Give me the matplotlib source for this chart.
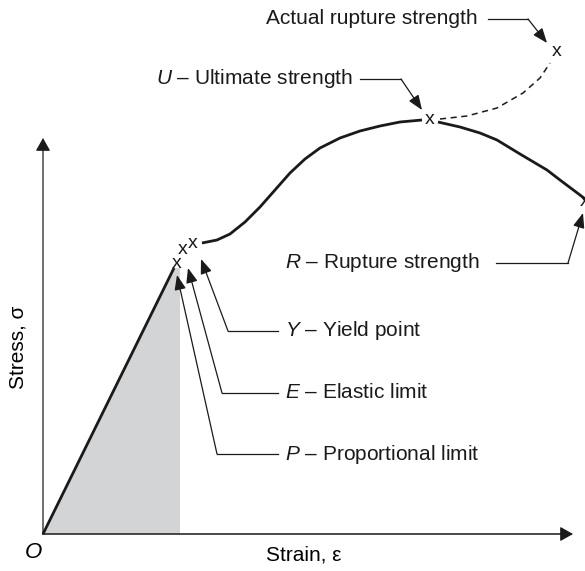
import matplotlib.pyplot as plt

plt.rcParams['font.family'] = ['Liberation Sans', 'DejaVu Sans']
plt.rcParams['mathtext.fontset'] = 'custom'
plt.rcParams['mathtext.it'] = 'Liberation Sans:italic'
plt.rcParams['mathtext.rm'] = 'Liberation Sans'

# strain / stress coordinates (arbitrary units, origin at O)
elastic_strain = [0, 131]
elastic_stress = [0, 266]

plastic_strain = [159, 174, 187, 202, 217, 232, 247, 262, 277, 297, 317, 337, 357, 379]
plastic_stress = [291, 294, 300, 312, 327, 344, 361, 375, 386, 396, 403, 408, 412, 414]

necking_strain = [395, 417, 437, 454, 477, 504, 517, 537, 550]
necking_stress = [412, 407, 401, 394, 380, 364, 354, 339, 329]

true_strain = [397, 424, 454, 480, 497, 507]
true_stress = [415, 418, 426, 441, 456, 471]

shade_strain = [0, 131, 137, 137]
shade_stress = [0, 266, 266, 0]

# named points: (strain, stress)
points = {
    'P': (134, 271),
    'E': (140, 285),
    'Y': (150, 290),
    'U': (387, 415),
    'R': (542, 332),
    'A': (514, 482),
}

# callouts: text, text anchor, alignment, leader polyline, arrow tip
callouts = [
    ('Actual rupture strength', (435, 515), 'right', [(445, 515), (485, 515)], (504, 491)),
    (r'$\mathit{U}$ – Ultimate strength', (310, 455), 'right', [(317, 455), (358, 455)], (379, 424)),
    (r'$\mathit{R}$ – Rupture strength', (242, 271), 'left', [(453, 271), (525, 271)], (540, 321)),
    (r'$\mathit{Y}$ – Yield point', (242, 203), 'left', [(235, 203), (185, 203)], (158, 275)),
    (r'$\mathit{E}$ – Elastic limit', (242, 141), 'left', [(235, 141), (179, 141)], (145, 266)),
    (r'$\mathit{P}$ – Proportional limit', (242, 80), 'left', [(235, 80), (174, 80)], (134, 259)),
]

fig = plt.figure(figsize=(5.85, 5.71), dpi=100)
ax = fig.add_axes([0, 0, 1, 1])
ax.set_xlim(-43, 542)
ax.set_ylim(-37, 534)
ax.axis('off')

# axes with arrow heads
ax.plot([0, 0], [0, 390], color='#555555', lw=1.2)
ax.plot([0, 522], [0, 0], color='#2a2a2a', lw=1.2)
axis_head = dict(arrowstyle='-|>,head_length=0.8,head_width=0.45', color='#1a1a1a',
                 lw=0.8, mutation_scale=10, shrinkA=0, shrinkB=0)
ax.annotate('', xy=(0, 396), xytext=(0, 385), arrowprops=axis_head)
ax.annotate('', xy=(530, 0), xytext=(519, 0), arrowprops=axis_head)

ax.fill(shade_strain, shade_stress, color='#d3d4d6', lw=0, zorder=0)

curve_kw = dict(color='#1a1a1a', lw=2.0, solid_capstyle='butt')
ax.plot(elastic_strain, elastic_stress, **curve_kw)
ax.plot(plastic_strain, plastic_stress, **curve_kw)
ax.plot(necking_strain, necking_stress, **curve_kw)
ax.plot(true_strain, true_stress, color='#1a1a1a', lw=1.1, ls=(0, (4, 3)))

for name, (s, t) in points.items():
    ax.text(s, t, 'x', fontsize=14, ha='center', va='center', color='#1a1a1a')

leader_arrow = dict(arrowstyle='-|>,head_length=0.9,head_width=0.35', color='#1a1a1a',
                    lw=0.9, mutation_scale=10, shrinkA=0, shrinkB=0)
for label, (tx, ty), ha, line, tip in callouts:
    ax.text(tx, ty, label, fontsize=15, ha=ha, va='center', color='#1a1a1a')
    xs = [p[0] for p in line]
    ys = [p[1] for p in line]
    ax.plot(xs, ys, color='#1a1a1a', lw=0.9)
    ax.annotate('', xy=tip, xytext=line[-1], arrowprops=leader_arrow)

ax.text(-10, -19, r'$\mathit{O}$', fontsize=16, ha='center', va='center')
ax.text(261, -21, 'Strain, ε', fontsize=15, ha='center', va='center')
ax.text(-25, 187, 'Stress, σ', fontsize=15, ha='center', va='center', rotation=90)

fig.savefig('out.png', dpi=100)
